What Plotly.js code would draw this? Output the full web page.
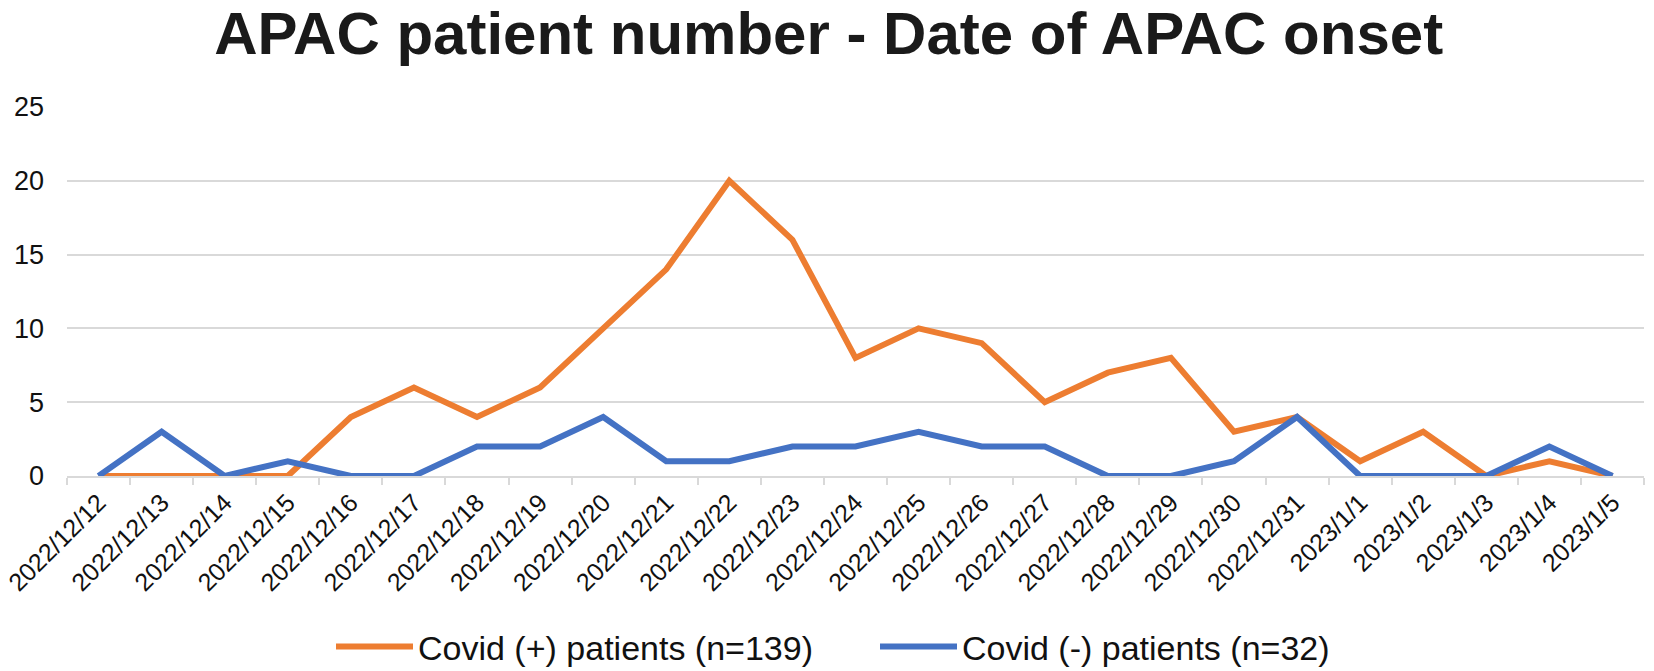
<!DOCTYPE html>
<html>
<head>
<meta charset="utf-8">
<script src="https://cdn.plot.ly/plotly-3.0.1.min.js"></script>
<style>
  html, body { margin: 0; padding: 0; background: #fff; }
  #chart { width: 1654px; height: 671px; }
</style>
</head>
<body>
<div id="chart"></div>
<script>
// onset dates (x categories)
const dates = [
  "2022/12/12", "2022/12/13", "2022/12/14", "2022/12/15", "2022/12/16",
  "2022/12/17", "2022/12/18", "2022/12/19", "2022/12/20", "2022/12/21",
  "2022/12/22", "2022/12/23", "2022/12/24", "2022/12/25", "2022/12/26",
  "2022/12/27", "2022/12/28", "2022/12/29", "2022/12/30", "2022/12/31",
  "2023/1/1", "2023/1/2", "2023/1/3", "2023/1/4", "2023/1/5"
];

// patient counts per day
const covidPos = [0, 0, 0, 0, 4, 6, 4, 6, 10, 14, 20, 16, 8, 10, 9, 5, 7, 8, 3, 4, 1, 3, 0, 1, 0];
const covidNeg = [0, 3, 0, 1, 0, 0, 2, 2, 4, 1, 1, 2, 2, 3, 2, 2, 0, 0, 1, 4, 0, 0, 0, 2, 0];

const yTicks = [0, 5, 10, 15, 20, 25];

const FONT = "Liberation Sans, Arial, sans-serif";

const traces = [
  {
    type: "scatter",
    mode: "lines",
    name: "Covid (+) patients (n=139)",
    x: dates,
    y: covidPos,
    line: { color: "#ED7D31", width: 6, shape: "linear" },
    legend: "legend",
    hoverinfo: "x+y"
  },
  {
    type: "scatter",
    mode: "lines",
    name: "Covid (-) patients (n=32)",
    x: dates,
    y: covidNeg,
    line: { color: "#4472C4", width: 6, shape: "linear" },
    legend: "legend2",
    hoverinfo: "x+y"
  }
];

// one legend per series so the two entries can sit where the original has them
function legendAt(xPx) {
  return {
    orientation: "h",
    xref: "container",
    yref: "container",
    x: xPx / 1654,
    xanchor: "left",
    y: 1 - 647 / 671,
    yanchor: "middle",
    font: { family: FONT, size: 34, color: "#111" },
    itemwidth: 77,
    bgcolor: "rgba(0,0,0,0)"
  };
}

const layout = {
  width: 1654,
  height: 671,
  paper_bgcolor: "#fff",
  plot_bgcolor: "#fff",
  margin: { l: 67, r: 10, t: 107, b: 195 },
  font: { family: FONT, color: "#111" },
  title: {
    text: "<b>APAC patient number - Date of APAC onset</b>",
    font: { family: FONT, size: 60, color: "#1a1a1a" },
    x: 0.501,
    xref: "container",
    xanchor: "center",
    y: 1 - 33 / 671,
    yref: "container",
    yanchor: "middle"
  },
  xaxis: {
    type: "category",
    range: [-0.5, dates.length - 0.5],
    tickangle: -45,
    tickfont: { size: 25, color: "#111" },
    showgrid: false,
    showline: true,
    linecolor: "#d9d9d9",
    linewidth: 2,
    ticks: "outside",
    tickson: "boundaries",
    ticklen: 7,
    tickcolor: "#d9d9d9",
    tickwidth: 2,
    zeroline: false,
    fixedrange: true
  },
  yaxis: {
    range: [0, 25],
    tickvals: yTicks,
    tickfont: { size: 27, color: "#111" },
    showgrid: true,
    gridcolor: "#d9d9d9",
    gridwidth: 2,
    zeroline: false,
    showline: false,
    ticks: "",
    ticklabelstandoff: 22,
    fixedrange: true
  },
  showlegend: true,
  legend: legendAt(331),
  legend2: legendAt(875)
};

Plotly.newPlot("chart", traces, layout, {
  displayModeBar: false,
  staticPlot: true
});
</script>
</body>
</html>
